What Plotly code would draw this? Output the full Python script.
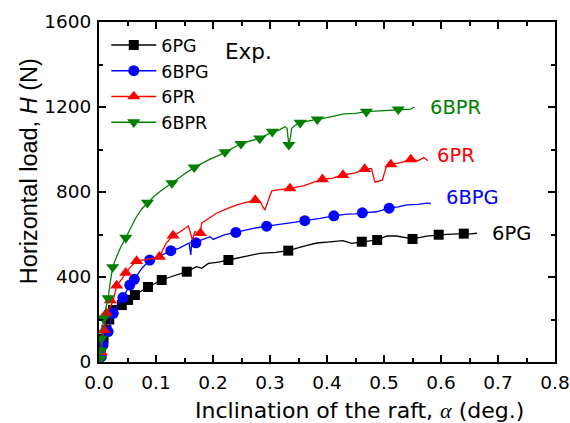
import plotly.graph_objects as go

# ---- measured curves: inclination (deg.) vs horizontal load H (N) ----
pg_x = [0, 0.002, 0.005, 0.009, 0.013, 0.018, 0.0246, 0.032, 0.040, 0.051, 0.063, 0.075, 0.086,
        0.098, 0.110, 0.125, 0.140, 0.154, 0.171, 0.180, 0.192, 0.210, 0.227, 0.250, 0.282, 0.310,
        0.332, 0.360, 0.382, 0.405, 0.428, 0.443, 0.461, 0.475, 0.488, 0.505, 0.522, 0.550, 0.575,
        0.596, 0.610, 0.640, 0.652, 0.663]
pg_h = [0, 40, 90, 140, 180, 215, 245, 258, 268, 292, 315, 335, 353,
        368, 386, 400, 414, 425, 449, 441, 464, 470, 480, 492, 511, 516,
        524, 545, 560, 565, 571, 558, 566, 570, 574, 593, 593, 579, 592,
        599, 601, 604, 603, 606]
pg_mx = [0.003, 0.008, 0.013, 0.018, 0.0246, 0.040, 0.051, 0.063, 0.086, 0.110, 0.154, 0.227,
         0.332, 0.461, 0.488, 0.550, 0.596, 0.640]
pg_mh = [40, 110, 150, 200, 245, 268, 292, 315, 353, 386, 425, 480,
         524, 566, 574, 579, 599, 604]

bpg_x = [0, 0.003, 0.006, 0.010, 0.016, 0.020, 0.025, 0.032, 0.042, 0.048, 0.054, 0.062, 0.075,
         0.089, 0.100, 0.112, 0.126, 0.140, 0.150, 0.158, 0.161, 0.163, 0.170, 0.180, 0.195, 0.200,
         0.220, 0.240, 0.253, 0.271, 0.294, 0.310, 0.329, 0.345, 0.361, 0.375, 0.388, 0.412, 0.435,
         0.450, 0.462, 0.487, 0.509, 0.525, 0.540, 0.560, 0.575, 0.582]
bpg_h = [0, 20, 60, 100, 143, 190, 229, 265, 303, 335, 362, 389, 440,
         480, 490, 505, 524, 535, 550, 560, 504, 570, 561, 575, 590, 577,
         598, 610, 621, 629, 639, 644, 653, 658, 665, 670, 676, 688, 696,
         697, 702, 707, 724, 730, 739, 742, 748, 746]
bpg_mx = [0.004, 0.007, 0.016, 0.025, 0.042, 0.054, 0.062, 0.089, 0.126, 0.170, 0.240, 0.294,
          0.361, 0.412, 0.462, 0.509]
bpg_mh = [25, 80, 143, 229, 303, 362, 389, 480, 524, 561, 610, 639,
          665, 688, 702, 724]

pr_x = [0, 0.002, 0.004, 0.006, 0.009, 0.013, 0.020, 0.025, 0.031, 0.040, 0.047, 0.056, 0.066,
        0.080, 0.092, 0.106, 0.118, 0.130, 0.142, 0.151, 0.157, 0.164, 0.168, 0.178, 0.180, 0.195,
        0.206, 0.225, 0.242, 0.260, 0.274, 0.283, 0.291, 0.297, 0.303, 0.320, 0.335, 0.360, 0.392,
        0.410, 0.428, 0.450, 0.466, 0.478, 0.484, 0.497, 0.505, 0.512, 0.530, 0.547, 0.560, 0.570,
        0.577]
pr_h = [0, 25, 45, 100, 150, 230, 260, 290, 360, 390, 420, 450, 475,
        480, 487, 495, 560, 595, 612, 629, 640, 574, 613, 606, 653, 680,
        700, 722, 739, 752, 762, 752, 715, 760, 805, 812, 817, 830, 860,
        865, 880, 890, 908, 911, 846, 856, 927, 930, 938, 953, 948, 962,
        947]
pr_mx = [0.004, 0.009, 0.013, 0.020, 0.031, 0.047, 0.066, 0.106, 0.130, 0.178, 0.274, 0.335,
         0.392, 0.428, 0.466, 0.512, 0.547]
pr_mh = [45, 150, 230, 290, 360, 420, 475, 495, 595, 606, 762, 817,
         860, 880, 908, 930, 953]

bpr_x = [0, 0.002, 0.003, 0.004, 0.006, 0.008, 0.012, 0.016, 0.020, 0.024, 0.030, 0.038, 0.047,
         0.055, 0.065, 0.075, 0.085, 0.095, 0.108, 0.118, 0.128, 0.140, 0.150, 0.167, 0.180, 0.195,
         0.210, 0.221, 0.235, 0.249, 0.265, 0.282, 0.295, 0.304, 0.315, 0.326, 0.330, 0.333, 0.336,
         0.338, 0.345, 0.353, 0.368, 0.383, 0.400, 0.430, 0.450, 0.469, 0.490, 0.510, 0.525, 0.540,
         0.547, 0.553]
bpr_h = [0, 15, 50, 110, 160, 205, 260, 300, 380, 447, 490, 540, 585,
         625, 680, 720, 750, 775, 805, 825, 842, 868, 885, 916, 935, 955,
         972, 988, 1010, 1027, 1040, 1052, 1070, 1084, 1090, 1107, 1100, 1022, 1060,
         1100, 1115, 1126, 1135, 1142, 1150, 1168, 1170, 1178, 1182, 1185, 1189, 1192,
         1190, 1200]
bpr_mx = [0.002, 0.003, 0.004, 0.008, 0.016, 0.024, 0.047, 0.085, 0.128, 0.167, 0.221, 0.249,
          0.282, 0.304, 0.333, 0.353, 0.383, 0.469, 0.525]
bpr_mh = [15, 55, 110, 205, 300, 447, 585, 750, 842, 916, 988, 1027,
          1052, 1084, 1022, 1126, 1142, 1178, 1189]

series = [
    ("6PG", pg_x, pg_h, pg_mx, pg_mh, "black", "square", 10),
    ("6BPG", bpg_x, bpg_h, bpg_mx, bpg_mh, "#0000ff", "circle", 11),
    ("6PR", pr_x, pr_h, pr_mx, pr_mh, "#ff0000", "triangle-up", 11.5),
    ("6BPR", bpr_x, bpr_h, bpr_mx, bpr_mh, "#008000", "triangle-down", 11.5),
]

# end-of-curve labels (x, H) in data units
label_pos = {"6PG": (0.686, 606), "6BPG": (0.605, 776), "6PR": (0.589, 974), "6BPR": (0.577, 1200)}

SANS = "DejaVu Sans"
fig = go.Figure()

for name, x, h, mx, mh, color, sym, size in series:
    fig.add_trace(go.Scatter(x=x, y=h, mode="lines", line=dict(color=color, width=1.3),
                             showlegend=False, hoverinfo="skip"))
    fig.add_trace(go.Scatter(x=mx, y=mh, mode="markers",
                             marker=dict(symbol=sym, size=size, color=color, line=dict(width=0)),
                             showlegend=False, name=name))
    # legend entry: line with centred marker
    fig.add_trace(go.Scatter(x=[None], y=[None], mode="lines+markers", name=name,
                             line=dict(color=color, width=1.3),
                             marker=dict(symbol=sym, size=size, color=color, line=dict(width=0))))
    lx, ly = label_pos[name]
    fig.add_annotation(x=lx, y=ly, xref="x", yref="y", text=name, showarrow=False,
                       xanchor="left", yanchor="middle",
                       font=dict(family=SANS, size=19.5, color=color))

fig.add_annotation(x=0.272, y=0.912, xref="paper", yref="paper", text="Exp.", showarrow=False,
                   xanchor="left", yanchor="middle", font=dict(family=SANS, size=21.5, color="black"))

# axis titles
fig.add_annotation(x=0.5706, y=-0.143, xref="paper", yref="paper",
                   text="Inclination of the raft, <i><span style=\"font-family:'Liberation Serif'\">α</span></i> (deg.)",
                   showarrow=False, xanchor="center", yanchor="middle",
                   font=dict(family=SANS, size=22, color="black"))
fig.add_annotation(x=-0.153, y=0.562, xref="paper", yref="paper",
                   text="Horizontal load, <i>H</i> (N)", textangle=-90,
                   showarrow=False, xanchor="center", yanchor="middle",
                   font=dict(family="Liberation Sans", size=23.5, color="black"))

axis_common = dict(showgrid=False, zeroline=False, showline=True, linecolor="black", linewidth=2,
                   mirror="ticks", ticks="inside", ticklen=7, tickwidth=1.5, tickcolor="black",
                   automargin=False,
                   tickfont=dict(family=SANS, size=18.5, color="black"))

fig.update_xaxes(range=[0, 0.8], tickvals=[0, 0.1, 0.2, 0.3, 0.4, 0.5, 0.6, 0.7, 0.8],
                 ticktext=["0.0", "0.1", "0.2", "0.3", "0.4", "0.5", "0.6", "0.7", "0.8"],
                 minor=dict(tickvals=[0.05, 0.15, 0.25, 0.35, 0.45, 0.55, 0.65, 0.75],
                            ticks="inside", ticklen=4, tickwidth=1.5, tickcolor="black"),
                 ticklabelstandoff=3,
                 **axis_common)
fig.update_yaxes(range=[0, 1600], tickvals=[0, 400, 800, 1200, 1600],
                 minor=dict(tickvals=[200, 600, 1000, 1400],
                            ticks="inside", ticklen=4, tickwidth=1.5, tickcolor="black"),
                 ticklabelstandoff=2,
                 **axis_common)

fig.update_layout(
    width=570, height=423,
    margin=dict(l=99, r=15, t=22, b=61),
    plot_bgcolor="white", paper_bgcolor="white",
    legend=dict(x=0.016, y=0.985, xanchor="left", yanchor="top", bgcolor="rgba(0,0,0,0)",
                font=dict(family=SANS, size=17.5, color="black"), itemwidth=45,
                tracegroupgap=0),
)

fig.write_html("out.html")
